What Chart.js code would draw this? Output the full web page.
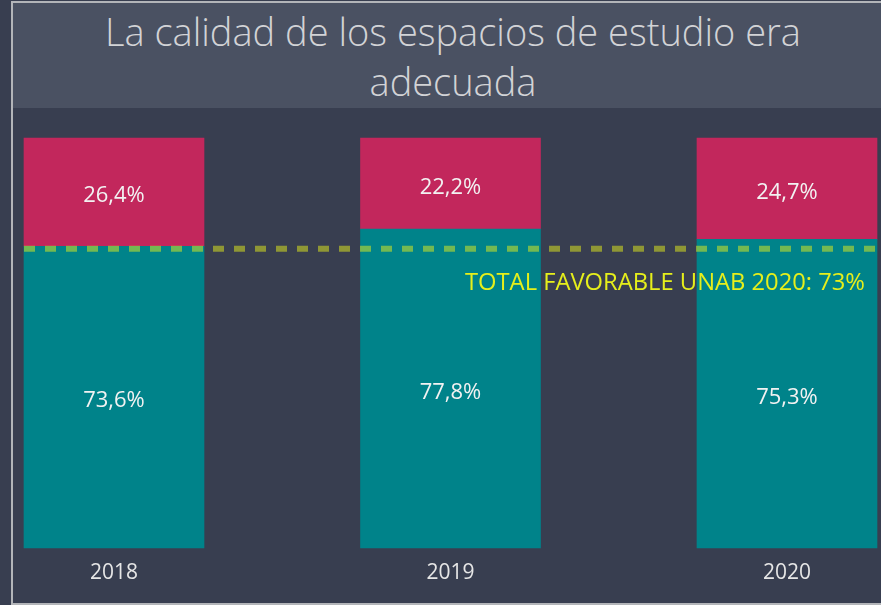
<!DOCTYPE html>
<html lang="es">
<head>
<meta charset="utf-8">
<title>La calidad de los espacios de estudio era adecuada</title>
<script src="https://cdn.jsdelivr.net/npm/chart.js@4.4.1/dist/chart.umd.min.js"></script>
<style>
  html, body { margin: 0; padding: 0; width: 881px; height: 605px; overflow: hidden; background: #383e50; }
  #frame { position: absolute; left: 11px; top: 1px; width: 880px; height: 600px;
           border: 2px solid #b3b5b9; border-right: none; }
  #title { position: absolute; left: 0; top: 0; right: 0; height: 105px; background: #4a5162;
           color: #d2d3d6; font-family: "Open Sans", sans-serif; font-weight: 300; font-size: 38px;
           line-height: 50px; text-align: center; padding-top: 3px; box-sizing: border-box; }
  #chart { position: absolute; left: 0; top: 0; }
</style>
</head>
<body>
<div id="frame">
  <div id="title">La calidad de los espacios de estudio era<br>adecuada</div>
</div>
<canvas id="chart" width="881" height="605"></canvas>
<script>
// Survey results per year (percent of answers)
const years = ['2018', '2019', '2020'];
const favorable = [73.6, 77.8, 75.3];
const unfavorable = [26.4, 22.2, 24.7];

// Institutional reference value
const referenceValue = 73;
const referenceLabel = 'TOTAL FAVORABLE UNAB 2020: 73%';

// 73.6 -> "73,6%"
function fmt(v) {
    return v.toFixed(1).replace('.', ',') + '%';
}

// Writes the percentage in the middle of every segment
const segmentLabels = {
    id: 'segmentLabels',
    afterDatasetsDraw(chart) {
        const ctx = chart.ctx;
        ctx.save();
        ctx.font = '22px "Open Sans"';
        ctx.fillStyle = '#f2f2f2';
        ctx.textAlign = 'center';
        ctx.textBaseline = 'middle';
        chart.data.datasets.forEach((ds, i) => {
            chart.getDatasetMeta(i).data.forEach((bar, j) => {
                const mid = (bar.y + bar.base) / 2;
                ctx.fillText(fmt(ds.data[j]), bar.x, mid + 4);
            });
        });
        ctx.restore();
    }
};

// Dashed horizontal line for the reference value, with its caption
const referenceLine = {
    id: 'referenceLine',
    afterDatasetsDraw(chart) {
        const ctx = chart.ctx;
        const bars = chart.getDatasetMeta(0).data;
        const first = bars[0], last = bars[bars.length - 1];
        const x0 = first.x - first.width / 2;
        const x1 = last.x + last.width / 2;
        const y = chart.scales.y.getPixelForValue(referenceValue);
        ctx.save();
        ctx.strokeStyle = 'rgba(230, 240, 26, 0.5)';
        ctx.lineWidth = 6;
        ctx.setLineDash([11, 10]);
        ctx.beginPath();
        ctx.moveTo(x0, y);
        ctx.lineTo(x1, y);
        ctx.stroke();
        ctx.setLineDash([]);
        ctx.font = '24px "Open Sans"';
        ctx.fillStyle = '#e6ef1b';
        ctx.textAlign = 'right';
        ctx.textBaseline = 'alphabetic';
        ctx.fillText(referenceLabel, x1 - 12, y + 41, 400);
        ctx.restore();
    }
};

new Chart(document.getElementById('chart'), {
    type: 'bar',
    data: {
        labels: years,
        datasets: [{
            label: 'Favorable',
            data: favorable,
            backgroundColor: '#00838a',
            barThickness: 180,
            clip: false
        }, {
            label: 'Desfavorable',
            data: unfavorable,
            backgroundColor: '#c2275c',
            barThickness: 180,
            clip: false
        }]
    },
    options: {
        responsive: false,
        animation: false,
        layout: { padding: { left: 114, right: 94, top: 138, bottom: 0 } },
        plugins: {
            legend: { display: false },
            tooltip: { enabled: false }
        },
        scales: {
            x: {
                stacked: true,
                offset: false,
                grid: { display: false, drawTicks: false },
                border: { display: false },
                ticks: {
                    color: '#e6e6e6',
                    font: { family: 'Open Sans', size: 21 },
                    padding: 12
                },
                afterFit(scale) { scale.height = 57; }
            },
            y: {
                stacked: true,
                display: false,
                min: 0,
                max: 100
            }
        }
    },
    plugins: [segmentLabels, referenceLine]
});
</script>
</body>
</html>
